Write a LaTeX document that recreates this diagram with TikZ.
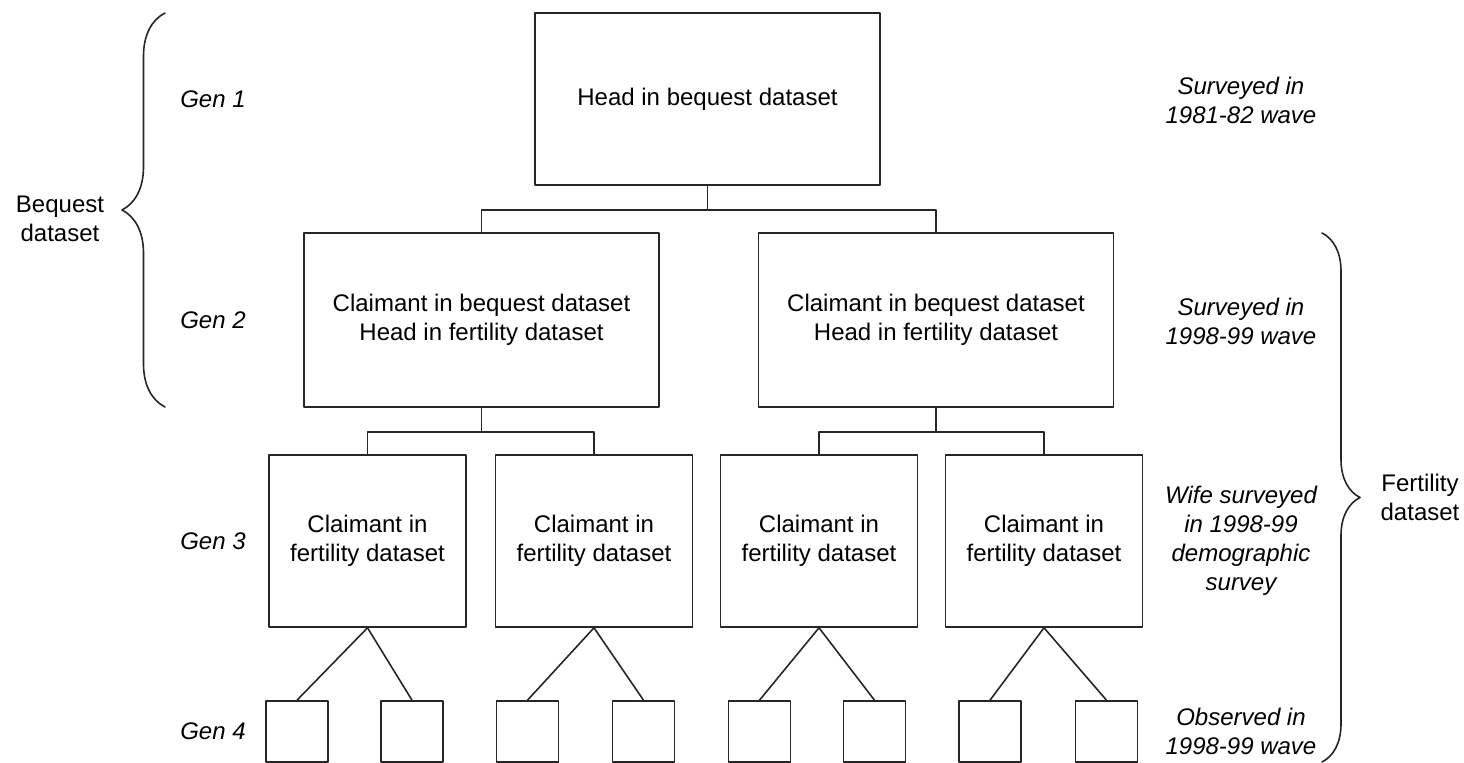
\documentclass[tikz,border=0pt]{standalone}
\usepackage{fontspec}
\setmainfont{Liberation Sans}
\usepackage{tikz}
\usetikzlibrary{decorations.pathreplacing}

\begin{document}
\begin{tikzpicture}[line cap=round,line join=round,x=0.5pt,y=-0.5pt,
  every node/.style={font=\fontsize{12}{14.5}\selectfont},
  box/.style={draw=black!85,line width=0.8pt,inner sep=0pt,align=center},
  bigbox/.style={box,minimum width=177.5pt,minimum height=87pt},
  midbox/.style={box,minimum width=98.5pt,minimum height=86pt},
  leafbox/.style={box,minimum width=31pt,minimum height=30.5pt},
  link/.style={draw=black!85,line width=0.8pt},
  genlabel/.style={font=\fontsize{12}{14.5}\selectfont\itshape},
  note/.style={font=\fontsize{12}{14.5}\selectfont\itshape,align=center}]
\useasboundingbox (0,0) rectangle (1464,763);
% generation 1
\node[box,minimum width=172.5pt,minimum height=86pt] (head) at (707.5,99) {Head in bequest dataset};
% generation 2
\node[bigbox] (claimL) at (481.5,320) {Claimant in bequest dataset\\Head in fertility dataset};
\node[bigbox] (claimR) at (936,320) {Claimant in bequest dataset\\Head in fertility dataset};
% generation 3
\node[midbox] (fertA) at (367.5,541) {Claimant in\\fertility dataset};
\node[midbox] (fertB) at (594,541) {Claimant in\\fertility dataset};
\node[midbox] (fertC) at (819,541) {Claimant in\\fertility dataset};
\node[midbox] (fertD) at (1044,541) {Claimant in\\fertility dataset};
% generation 4
\node[leafbox] (kidA1) at (297,731.5) {};
\node[leafbox] (kidA2) at (412,731.5) {};
\node[leafbox] (kidB1) at (527.5,731.5) {};
\node[leafbox] (kidB2) at (643.5,731.5) {};
\node[leafbox] (kidC1) at (759.5,731.5) {};
\node[leafbox] (kidC2) at (874.5,731.5) {};
\node[leafbox] (kidD1) at (990,731.5) {};
\node[leafbox] (kidD2) at (1106.5,731.5) {};
% connectors
\draw[link] (head.south) -- ++(0,24) -| (claimL.north);
\draw[link] (head.south) -- ++(0,24) -| (claimR.north);
\draw[link] (claimL.south) -- ++(0,24) -| (fertA.north);
\draw[link] (claimL.south) -- ++(0,24) -| (fertB.north);
\draw[link] (claimR.south) -- ++(0,24) -| (fertC.north);
\draw[link] (claimR.south) -- ++(0,24) -| (fertD.north);
\draw[link] (fertA.south) -- (kidA1.north);
\draw[link] (fertA.south) -- (kidA2.north);
\draw[link] (fertB.south) -- (kidB1.north);
\draw[link] (fertB.south) -- (kidB2.north);
\draw[link] (fertC.south) -- (kidC1.north);
\draw[link] (fertC.south) -- (kidC2.north);
\draw[link] (fertD.south) -- (kidD1.north);
\draw[link] (fertD.south) -- (kidD2.north);
% generation labels
\node[genlabel] (gen1) at (213,99) {Gen 1};
\node[genlabel] (gen2) at (213,320) {Gen 2};
\node[genlabel] (gen3) at (213,541) {Gen 3};
\node[genlabel] (gen4) at (213,731.5) {Gen 4};
% survey notes
\node[note] (wave1) at (1241,100) {Surveyed in\\1981-82 wave};
\node[note] (wave2) at (1241,321) {Surveyed in\\1998-99 wave};
\node[note] (wave3) at (1241,541) {Wife surveyed\\in 1998-99\\demographic\\survey};
\node[note] (wave4) at (1241,731.5) {Observed in\\1998-99 wave};
% braces
\coordinate (bqBot) at (165,407);
\coordinate (bqTop) at (165,13);
\coordinate (ftTop) at (1322,233);
\coordinate (ftBot) at (1322,762);
\draw[link,decorate,decoration={brace,amplitude=21.5pt}] (bqBot) -- (bqTop);
\draw[link,decorate,decoration={brace,amplitude=19pt}] (ftTop) -- (ftBot);
\node[align=center] (bequest) at (60,219) {Bequest\\dataset};
\node[align=center] (fertility) at (1420,497) {Fertility\\dataset};
\end{tikzpicture}
\end{document}
